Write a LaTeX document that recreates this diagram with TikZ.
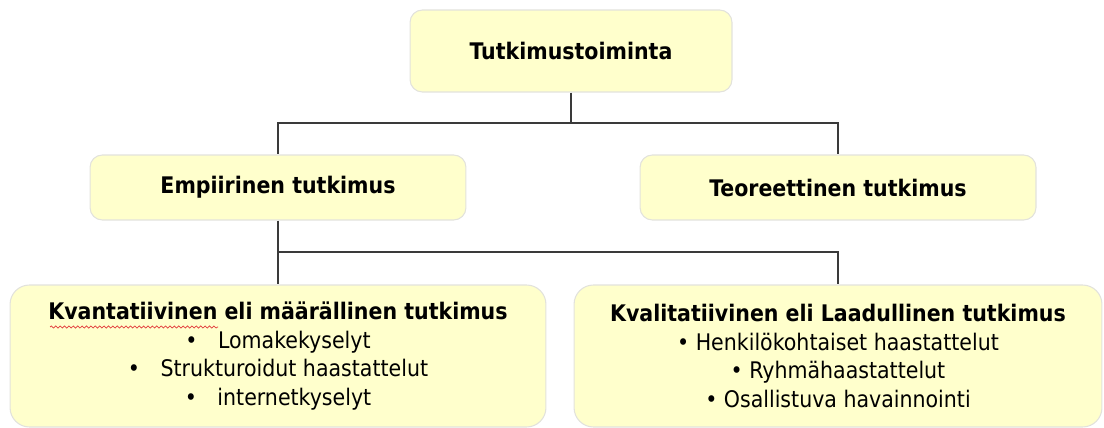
\documentclass[tikz,border=0pt]{standalone}
\usepackage{fontspec}
\setmainfont{DejaVu Sans Condensed}
\usetikzlibrary{decorations.pathmorphing}
\definecolor{BoxFill}{HTML}{FFFFCC}
\definecolor{BoxLine}{HTML}{E2E2DC}
\definecolor{Link}{HTML}{3A3A3A}
\definecolor{Spell}{HTML}{E23A3A}

\begin{document}
\begin{tikzpicture}[x=0.02cm,y=-0.02cm,
  box/.style={rounded corners=7pt,draw=BoxLine,fill=BoxFill,line width=0.6pt,align=center,font=\fontsize{13}{16.3}\selectfont\bfseries},
  listbox/.style={box,rounded corners=11pt,font=\fontsize{13}{16.3}\selectfont},
  link/.style={draw=Link,line width=0.8pt},
  spell/.style={draw=Spell,line width=0.4pt,decorate,decoration={snake,amplitude=0.6pt,segment length=2.5pt}}
]
\useasboundingbox (0,0) rectangle (1104,428);
\node[box,minimum width=6.44cm,minimum height=1.64cm] (top) at (571,51) {Tutkimustoiminta};
\node[box,minimum width=7.52cm,minimum height=1.30cm] (emp) at (278,187.5) {Empiirinen tutkimus};
\node[box,minimum width=7.92cm,minimum height=1.30cm] (teo) at (838,187.5) {Teoreettinen tutkimus};
\node[listbox,minimum width=10.72cm,minimum height=2.84cm] (kvan) at (278,356) {\textbf{Kvantatiivinen eli määrällinen tutkimus}\\
  •\hspace{0.9em}Lomakekyselyt\\
  •\hspace{0.9em}Strukturoidut haastattelut\\
  •\hspace{0.9em}internetkyselyt};
\node[listbox,minimum width=10.56cm,minimum height=2.84cm] (kval) at (838,356) {\textbf{Kvalitatiivinen eli Laadullinen tutkimus}\\
  • Henkilökohtaiset haastattelut\\
  • Ryhmähaastattelut\\
  • Osallistuva havainnointi};
\draw[spell] (50,327) -- (218,327);
% connectors
\coordinate (fork1) at (571,123);
\coordinate (fork2) at (278,252);
\draw[link] (top.south) -- (fork1);
\draw[link] (fork1) -| (emp.north);
\draw[link] (fork1) -| (teo.north);
\draw[link] (emp.south) -- (emp.south |- kvan.north);
\draw[link] (fork2) -| (kval.north);
\end{tikzpicture}
\end{document}
